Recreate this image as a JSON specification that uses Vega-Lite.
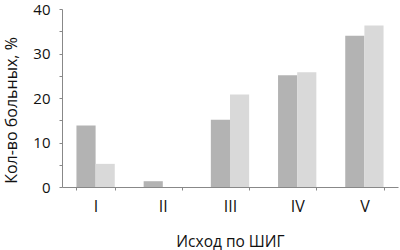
{
  "$schema": "https://vega.github.io/schema/vega-lite/v6.json",
  "width": 336,
  "height": 178,
  "autosize": {"type": "none"},
  "padding": {"left": 62, "top": 9, "right": 2, "bottom": 63},
  "background": "white",
  "config": {"view": {"stroke": null}, "font": "Open Sans"},
  "data": {"values": [
    {"group": "I", "series": "A", "value": 13.8},
    {"group": "I", "series": "B", "value": 5.2},
    {"group": "II", "series": "A", "value": 1.3},
    {"group": "II", "series": "B", "value": 0},
    {"group": "III", "series": "A", "value": 15.1},
    {"group": "III", "series": "B", "value": 20.8},
    {"group": "IV", "series": "A", "value": 25.1},
    {"group": "IV", "series": "B", "value": 25.8},
    {"group": "V", "series": "A", "value": 34.0},
    {"group": "V", "series": "B", "value": 36.3}
  ]},
  "mark": {"type": "bar"},
  "encoding": {
    "x": {
      "field": "group", "type": "nominal", "sort": null,
      "scale": {"paddingInner": 0.43, "paddingOuter": 0.215},
      "axis": {
        "title": "Исход по ШИГ", "labelAngle": 0,
        "tickBand": "extent", "domainColor": "#888888", "tickColor": "#888888",
        "tickSize": 3, "labelPadding": 8, "labelFontSize": 16, "labelColor": "#111111",
        "titleFontSize": 15.5, "titleFontWeight": "normal", "titleColor": "#111111",
        "titleY": 54, "titleBaseline": "middle"
      }
    },
    "xOffset": {"field": "series", "type": "nominal"},
    "y": {
      "field": "value", "type": "quantitative",
      "scale": {"domain": [0, 40], "nice": false},
      "axis": {
        "title": "Кол-во больных, %", "values": [0, 5, 10, 15, 20, 25, 30, 35, 40],
        "labelExpr": "datum.value % 10 === 0 ? datum.label : ''",
        "grid": false, "domainColor": "#888888", "tickColor": "#888888",
        "tickSize": 3, "labelPadding": 9, "labelFontSize": 15, "labelColor": "#111111",
        "titleFontSize": 16, "titleFontWeight": "normal", "titleColor": "#111111",
        "titleX": -51, "titleY": 101, "titleBaseline": "middle", "titleAngle": -90
      }
    },
    "color": {
      "field": "series", "type": "nominal",
      "scale": {"domain": ["A", "B"], "range": ["#b3b3b3", "#d9d9d9"]},
      "legend": null
    }
  }
}
